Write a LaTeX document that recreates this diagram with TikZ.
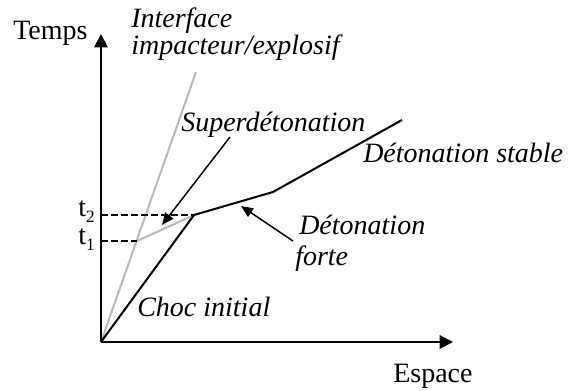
\documentclass[tikz,border=0pt]{standalone}
\usepackage{fontspec}
\setmainfont{Liberation Serif}
\usepackage{tikz}
\usetikzlibrary{arrows.meta}
\newcommand{\tsub}[1]{t\raisebox{-4pt}{\fontsize{13}{13}\selectfont #1}}
\tikzset{
  lbl/.style={font=\fontsize{21}{19}\selectfont\itshape,inner sep=0pt,align=left},
  albl/.style={font=\fontsize{21}{19}\selectfont,inner sep=0pt},
  axis/.style={line width=1.5pt,-{Triangle[length=10pt,width=10pt]}},
  front/.style={line width=1.5pt,line join=miter},
  gfront/.style={line width=1.5pt,draw=black!28},
  level/.style={line width=1.1pt,dash pattern=on 5pt off 2.5pt},
  arr/.style={line width=1.1pt,-{Triangle[length=9pt,width=7.5pt]}},
}
\begin{document}
\begin{tikzpicture}[x=0.75pt,y=-0.75pt]
\useasboundingbox (0,0) rectangle (569,391);
\coordinate (O) at (101,342);
\coordinate (ytip) at (101,34);
\coordinate (xtip) at (453,342);
\coordinate (P2) at (194,215);
\coordinate (P3) at (273,192);
\coordinate (P4) at (402,120);
\coordinate (I) at (196,72);
\coordinate (S1) at (137,241);
\coordinate (T2) at (101,215);
\coordinate (T1) at (101,241);
\coordinate (supA) at (230,137);
\coordinate (supB) at (162,225);
\coordinate (forA) at (293,241);
\coordinate (forB) at (241,206);
\draw[gfront] (O) -- (I);
\draw[gfront] (S1) -- (P2);
\draw[level] (T2) -- (P2);
\draw[level] (T1) -- (S1);
\draw[front] (O) -- (P2) -- (P3) -- (P4);
\draw[axis] (O) -- (ytip);
\draw[axis] (O) -- (xtip);
\draw[arr] (supA) -- (supB);
\draw[arr] (forA) -- (forB);
\node[albl,anchor=base west] (temps) at (13,40) {Temps};
\node[albl,anchor=base west] (espace) at (393,383) {Espace};
\node[albl,anchor=base east] (t2) at (95,217) {\tsub{2}};
\node[albl,anchor=base east] (t1) at (95,245) {\tsub{1}};
\node[lbl,anchor=base west] (iface) at (131,28) {Interface};
\node[lbl,anchor=base west] (iface2) at (131,55) {impacteur/explosif};
\node[lbl,anchor=base west] (sup) at (181,132) {Superdétonation};
\node[lbl,anchor=base west] (stable) at (363,163) {Détonation stable};
\node[lbl,anchor=base west] (forte) at (299,235) {Détonation};
\node[lbl,anchor=base west] (forte2) at (295,266) {forte};
\node[lbl,anchor=base west] (choc) at (137,317) {Choc initial};
\end{tikzpicture}
\end{document}
